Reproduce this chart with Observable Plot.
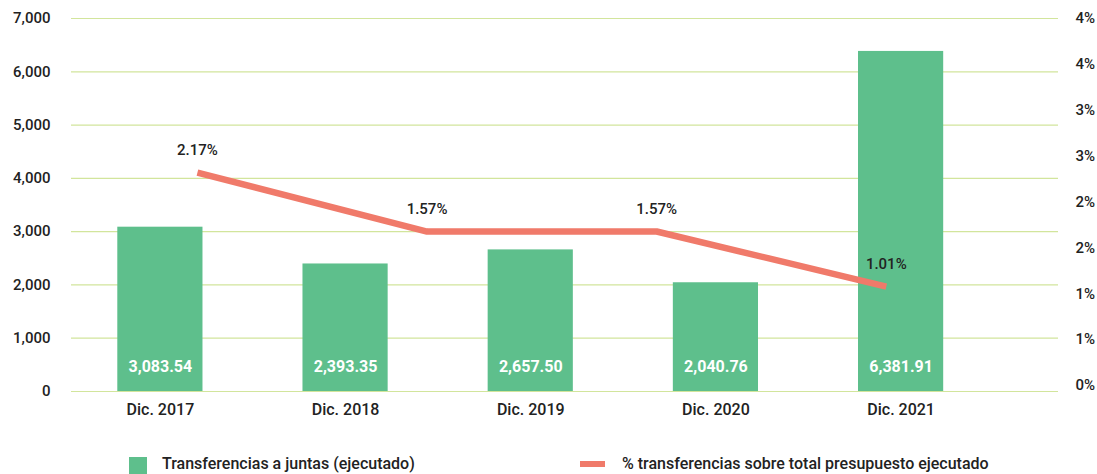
<!DOCTYPE html>
<html>
<head>
<meta charset="utf-8">
<script src="https://cdn.jsdelivr.net/npm/d3@7"></script>
<script src="https://cdn.jsdelivr.net/npm/@observablehq/plot@0.6"></script>
<style>
  body { margin: 0; background: #fff; font-family: Roboto, "Noto Sans", sans-serif; }
  #chart svg { display: block; }
  #legend { position: relative; width: 1097px; height: 44px; font-size: 16px; font-weight: 500; color: #222; }
  #legend .sw { position: absolute; }
  #legend .lb { position: absolute; top: 24px; line-height: 20px; white-space: nowrap; }
</style>
</head>
<body>
<div id="chart"></div>
<div id="legend">
  <div class="sw" style="left:129px;top:27px;width:18px;height:17px;background:#5ebf8c"></div>
  <div class="lb" style="left:162px">Transferencias a juntas (ejecutado)</div>
  <div class="sw" style="left:580px;top:31px;width:25px;height:6px;background:#f07a6a"></div>
  <div class="lb" style="left:622px">% transferencias sobre total presupuesto ejecutado</div>
</div>
<script>
// ---- data ----
const years = [2017, 2018, 2019, 2020, 2021];
const categories = ["Dic. 2017", "Dic. 2018", "Dic. 2019", "Dic. 2020", "Dic. 2021"];
const transfers = [3083.54, 2393.35, 2657.50, 2040.76, 6381.91];
const transferLabels = ["3,083.54", "2,393.35", "2,657.50", "2,040.76", "6,381.91"];
const pctValues = [2.17, 1.57, 1.57, 1.01];
const pctLabels = ["2.17%", "1.57%", "1.57%", "1.01%"];
const leftTicks = [0, 1000, 2000, 3000, 4000, 5000, 6000, 7000];
const rightTickPct = [0, 0.5, 1, 1.5, 2, 2.5, 3, 3.5, 4];
const rightTickLabels = ["0%", "1%", "1%", "2%", "2%", "3%", "3%", "4%", "4%"];

// ---- tables ----
const bars = years.map((y, i) => ({year: y, value: transfers[i], label: transferLabels[i]}));
// the percentage series sits on its own 4-slot category axis (secondary axis)
const lineStart = 2017.2, lineStep = 1.24;
const pctToLeft = p => 107 + p * 1844;     // secondary series scale
const axisToLeft = p => 113 + p * 1722;    // secondary axis scale
const line = pctValues.map((p, i) => ({x: lineStart + i * lineStep, y: pctToLeft(p), label: pctLabels[i]}));
const rTicks = rightTickPct.map((p, i) => ({v: axisToLeft(p), label: rightTickLabels[i]}));

const ink = "#222";
const chart = Plot.plot({
  width: 1097,
  height: 430,
  marginTop: 18,
  marginBottom: 39,
  marginLeft: 71,
  marginRight: 39,
  style: {fontFamily: "Roboto, sans-serif", fontSize: "15px", color: ink, background: "#fff"},
  x: {type: "linear", domain: [2016.52, 2021.85]},
  y: {domain: [0, 7000]},
  marks: [
    Plot.ruleY(leftTicks, {stroke: "#d2e59c", strokeWidth: 1.2}),
    Plot.rectY(bars, {x1: d => d.year - 0.5, x2: d => d.year + 0.5, y: "value",
      insetLeft: 50, insetRight: 50, fill: "#5ebf8c"}),
    Plot.text(bars, {x: "year", y: 0, text: "label", dy: -25, fill: "#fff",
      fontWeight: "bold", fontSize: 16}),
    Plot.line(line, {x: "x", y: "y", stroke: "#f07a6a", strokeWidth: 6.5,
      strokeLinecap: "butt", strokeLinejoin: "miter"}),
    Plot.text(line, {x: "x", y: "y", text: "label", dy: -22, fill: ink,
      fontWeight: 500, fontSize: 15}),
    Plot.axisY({ticks: leftTicks, tickSize: 0, tickPadding: 21, tickFormat: d3.format(","),
      fontWeight: 500, fontSize: 15, fill: ink}),
    Plot.text(rTicks, {y: "v", text: "label", frameAnchor: "right", dx: 17,
      textAnchor: "start", fill: ink, fontWeight: 500, fontSize: 15}),
    Plot.axisX({ticks: years, tickSize: 0, tickPadding: 12,
      tickFormat: d => categories[years.indexOf(d)], fontWeight: 500, fontSize: 16, fill: ink})
  ]
});
document.getElementById("chart").appendChild(chart);
</script>
</body>
</html>
